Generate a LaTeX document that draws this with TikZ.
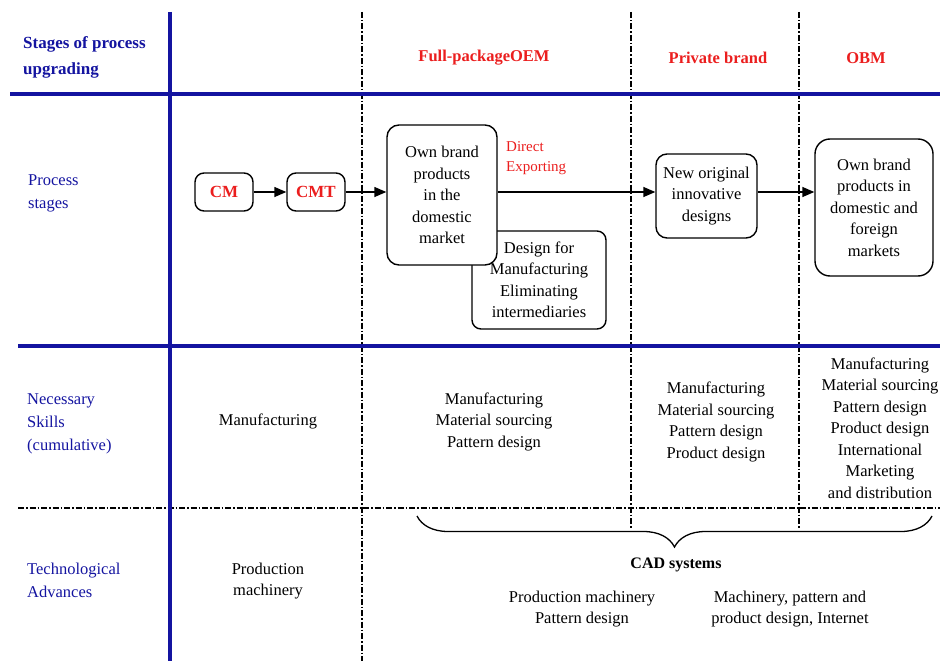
\documentclass[tikz,border=0pt]{standalone}
\usepackage{fontspec}
\setmainfont{Liberation Serif}
\usetikzlibrary{arrows.meta,decorations.pathreplacing}
\definecolor{navy}{RGB}{20,20,160}
\definecolor{hired}{RGB}{235,30,30}
\tikzset{
  body/.style={font=\fontsize{16.5}{21.5}\selectfont, align=center, inner sep=0pt},
  rowlabel/.style={font=\fontsize{16.5}{23}\selectfont, align=left, inner sep=0pt, text=navy, anchor=west},
  colhead/.style={font=\bfseries\fontsize{16.5}{21.5}\selectfont, text=hired, inner sep=0pt},
  stagebox/.style={draw, line width=1.4pt, rounded corners=9pt, fill=white, align=center,
                   font=\fontsize{16.5}{21.5}\selectfont, inner sep=0pt},
  redbox/.style={stagebox, text=hired, font=\bfseries\fontsize{17}{20}\selectfont},
  gridmajor/.style={navy, line width=3.5pt},
  gridminor/.style={black, line width=1.1pt, dash pattern=on 6pt off 2pt on 1.5pt off 2pt},
  flow/.style={line width=1.4pt, -{Triangle[length=12pt,width=10pt]}}
}
\begin{document}
\begin{tikzpicture}[x=1pt,y=-1pt]
\useasboundingbox (0,0) rectangle (940,661);

% grid lines
\draw[gridminor] (362,12) -- (362,661);
\draw[gridminor] (631,12) -- (631,529);
\draw[gridminor] (799,12) -- (799,529);
\draw[gridminor] (18,508) -- (940,508);
\draw[gridmajor] (170,12) -- (170,661);
\draw[gridmajor] (10,94) -- (940,94);
\draw[gridmajor] (18,346) -- (940,346);

% header row
\node[font=\bfseries\fontsize{17}{26}\selectfont, text=navy, align=left, anchor=west, inner sep=0pt]
  (hdr) at (23,57) {Stages of process\\upgrading};
\node[colhead] (oem) at (484,58) {Full-packageOEM};
\node[colhead] (pb) at (718,58) {Private brand};
\node[colhead] (obm) at (866,58) {OBM};

% row labels
\node[rowlabel] (lproc) at (28,193) {Process\\stages};
\node[rowlabel] (lskill) at (27,424) {Necessary\\Skills\\(cumulative)};
\node[rowlabel] (ltech) at (27,580.5) {Technological\\Advances};

% process stages
\node[redbox, minimum width=58pt, minimum height=38pt] (cm) at (224,192) {CM};
\node[redbox, minimum width=58pt, minimum height=38pt] (cmt) at (316,192) {CMT};
\node[stagebox, minimum width=134pt, minimum height=98pt] (dfm) at (539,280)
  {Design for\\Manufacturing\\Eliminating\\intermediaries};
\node[stagebox, rounded corners=12pt, minimum width=110pt, minimum height=140pt] (own) at (442,195)
  {Own brand\\products\\in the\\domestic\\market};
\node[font=\fontsize{15}{20}\selectfont, text=hired, align=left, anchor=west, inner sep=0pt]
  (dex) at (506,158) {Direct\\Exporting};
\node[stagebox, rounded corners=11pt, minimum width=101pt, minimum height=84pt] (new) at (706.5,196)
  {New original\\innovative\\designs};
\node[stagebox, rounded corners=15pt, minimum width=118pt, minimum height=137pt] (obmbox) at (874,207.5)
  {Own brand\\products in\\domestic and\\foreign\\markets};

\draw[flow] (cm) -- (cmt);
\draw[flow] (cmt) -- (cmt -| own.west);
\draw[flow] (own.east |- cm) -- (new.west |- cm);
\draw[flow] (new.east |- cm) -- (obmbox.west |- cm);

% necessary skills
\node[body] (s1) at (268,421) {Manufacturing};
\node[body] (s2) at (494,421.5) {Manufacturing\\Material sourcing\\Pattern design};
\node[body] (s3) at (716,422) {Manufacturing\\Material sourcing\\Pattern design\\Product design};
\node[body] (s4) at (880,428) {Manufacturing\\Material sourcing\\Pattern design\\Product design\\International\\Marketing\\and distribution};

% technological advances
\node[body] (t1) at (268,581) {Production\\machinery};
\draw[line width=1.3pt, decorate, decoration={brace, amplitude=31pt, aspect=0.5}]
  (932,516) -- (417,516);
\node[body, font=\bfseries\fontsize{16}{21}\selectfont] (cad) at (676,565) {CAD systems};
\node[body] (t2) at (582,609) {Production machinery\\Pattern design};
\node[body] (t3) at (790,609) {Machinery, pattern and\\product design, Internet};
\end{tikzpicture}
\end{document}
